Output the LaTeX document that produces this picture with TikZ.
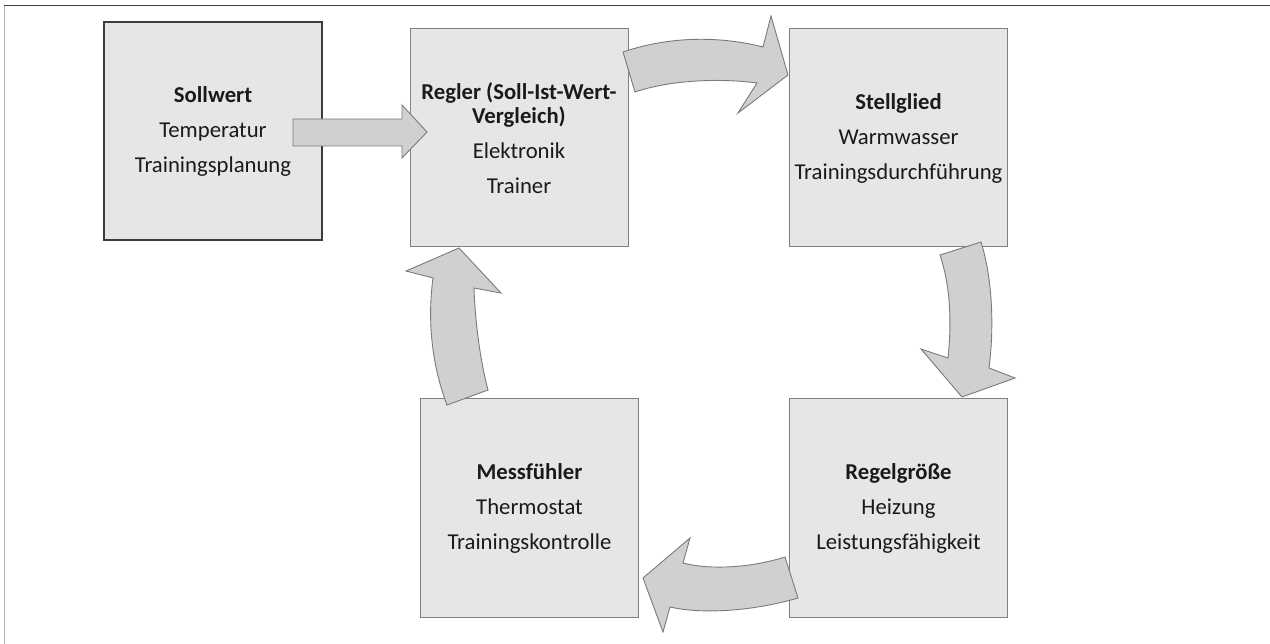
\documentclass[tikz,border=0pt]{standalone}
\usepackage{fontspec}
\setmainfont{Carlito}
\begin{document}
\begin{tikzpicture}[x=1pt,y=-1pt,
  blockbox/.style={draw=boxline, line width=1pt, fill=boxfill, minimum width=218pt,
    minimum height=218pt, inner sep=0pt, align=center, text=txt,
    font=\fontsize{22.7}{35}\selectfont},
  mainbox/.style={blockbox, draw=mainline, line width=1.8pt},
  flow/.style={draw=arrline, line width=0.9pt, fill=arrfill, line join=miter}]
\definecolor{boxfill}{HTML}{E6E6E6}
\definecolor{boxline}{HTML}{808080}
\definecolor{mainline}{HTML}{3C3C3C}
\definecolor{arrfill}{HTML}{D0D0D0}
\definecolor{arrline}{HTML}{7A7A7A}
\definecolor{txt}{HTML}{1A1A1A}
\useasboundingbox[fill=white] (0,0) rectangle (1270,644);

% page frame
\draw[draw=gray!60, line width=1.3pt] (4.5,6) -- (4.5,644);
\draw[draw=black!75, line width=1pt] (4,6) -- (1270,6);

% control loop blocks
\node[mainbox] (soll) at (213,131)
  {\textbf{Sollwert}\\Temperatur\\Trainingsplanung};
\node[blockbox] (regler) at (519,138)
  {\textbf{Regler (Soll-Ist-Wert-}\\[-11pt]\textbf{Vergleich)}\\Elektronik\\Trainer};
\node[blockbox] (stell) at (898.5,138)
  {\textbf{Stellglied}\\Warmwasser\\Trainingsdurchführung};
\node[blockbox] (regel) at (898.5,508)
  {\textbf{Regelgröße}\\Heizung\\Leistungsfähigkeit};
\node[blockbox] (mess) at (529.5,508)
  {\textbf{Messfühler}\\Thermostat\\Trainingskontrolle};

% straight block arrow: Sollwert -> Regler
\draw[flow] (293,119) -- (402,119) -- (402,105) -- (427,132) -- (402,158)
  -- (402,146) -- (293,146) -- cycle;

% curved block arrow: Regler -> Stellglied
\draw[flow] (623,52) .. controls (670,36) and (720,36) .. (763,47)
  -- (771,16) -- (788,75) -- (738,113) -- (757,83)
  .. controls (720,78) and (670,80) .. (635,92) -- cycle;

% curved block arrow: Stellglied -> Regelgröße
\draw[flow] (981,242) .. controls (993,280) and (994,330) .. (989,368)
  -- (1015,378) -- (962,397) -- (921,349) -- (948,358)
  .. controls (952,320) and (950,285) .. (940,255) -- cycle;

% curved block arrow: Regelgröße -> Messfühler
\draw[flow] (785,557) .. controls (750,568) and (710,570) .. (683,563)
  -- (690,538) -- (643,578) -- (663,632) -- (670,607)
  .. controls (700,614) and (750,612) .. (798,598) -- cycle;

% curved block arrow: Messfühler -> Regler
\draw[flow] (447,405) .. controls (430,360) and (428,315) .. (433,278)
  -- (406,271) -- (459,248) -- (501,293) -- (474,288)
  .. controls (475,320) and (480,360) .. (488,390) -- cycle;
\end{tikzpicture}
\end{document}
